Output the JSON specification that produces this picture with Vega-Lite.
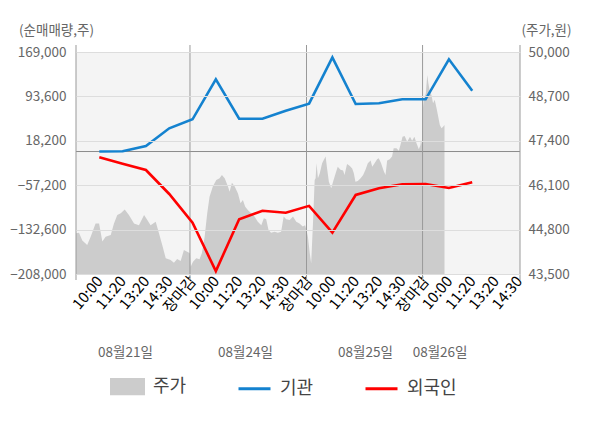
{
  "$schema": "https://vega.github.io/schema/vega-lite/v6.json",
  "width": 444,
  "height": 229,
  "autosize": {"type": "none"},
  "padding": {"left": 76, "top": 45, "right": 80, "bottom": 154},
  "background": "white",
  "config": {
    "font": "Noto Sans CJK KR",
    "view": {"stroke": null}
  },
  "datasets": {
    "price": [
      {"t": 0, "price": 44690}, {"t": 0.13, "price": 44710}, {"t": 0.27, "price": 44480}, {"t": 0.48, "price": 44350},
      {"t": 0.63, "price": 44590}, {"t": 0.84, "price": 44980}, {"t": 0.99, "price": 44980}, {"t": 1.13, "price": 44450},
      {"t": 1.27, "price": 44590}, {"t": 1.49, "price": 44640}, {"t": 1.63, "price": 44980}, {"t": 1.77, "price": 45230},
      {"t": 1.92, "price": 45280}, {"t": 2.09, "price": 45390}, {"t": 2.27, "price": 45230}, {"t": 2.49, "price": 44980},
      {"t": 2.7, "price": 44930}, {"t": 2.92, "price": 45230}, {"t": 3.06, "price": 45080}, {"t": 3.2, "price": 44930},
      {"t": 3.42, "price": 45030}, {"t": 3.56, "price": 44690}, {"t": 3.7, "price": 44350}, {"t": 3.85, "price": 43960},
      {"t": 4.06, "price": 43910}, {"t": 4.2, "price": 43830}, {"t": 4.34, "price": 43940}, {"t": 4.49, "price": 43880},
      {"t": 4.63, "price": 44200}, {"t": 4.85, "price": 44120}, {"t": 4.89, "price": 44100},
      {"t": 4.92, "price": 43710}, {"t": 5.02, "price": 43860}, {"t": 5.16, "price": 43960}, {"t": 5.3, "price": 43930},
      {"t": 5.4, "price": 44110}, {"t": 5.52, "price": 44590}, {"t": 5.63, "price": 45280}, {"t": 5.73, "price": 45760},
      {"t": 5.87, "price": 46060}, {"t": 6.02, "price": 46250}, {"t": 6.16, "price": 46300}, {"t": 6.26, "price": 46400},
      {"t": 6.38, "price": 46300}, {"t": 6.52, "price": 46060}, {"t": 6.59, "price": 45910}, {"t": 6.69, "price": 46170},
      {"t": 6.81, "price": 46060}, {"t": 6.95, "price": 45860}, {"t": 7.06, "price": 45570}, {"t": 7.16, "price": 45670},
      {"t": 7.26, "price": 45470}, {"t": 7.38, "price": 45370}, {"t": 7.52, "price": 45280}, {"t": 7.66, "price": 45180},
      {"t": 7.8, "price": 45030}, {"t": 7.95, "price": 44930}, {"t": 8.06, "price": 45130}, {"t": 8.16, "price": 45100},
      {"t": 8.26, "price": 44790}, {"t": 8.37, "price": 44710}, {"t": 8.52, "price": 44740}, {"t": 8.66, "price": 44710},
      {"t": 8.8, "price": 44740}, {"t": 8.91, "price": 45180}, {"t": 9.02, "price": 45100}, {"t": 9.17, "price": 45080},
      {"t": 9.31, "price": 45180}, {"t": 9.45, "price": 45030}, {"t": 9.59, "price": 44980}, {"t": 9.73, "price": 44890},
      {"t": 9.83, "price": 44930}, {"t": 9.89, "price": 44790},
      {"t": 9.95, "price": 44590}, {"t": 10.03, "price": 44110}, {"t": 10.09, "price": 43810}, {"t": 10.18, "price": 45180},
      {"t": 10.24, "price": 46250}, {"t": 10.28, "price": 46300}, {"t": 10.32, "price": 46740}, {"t": 10.38, "price": 46300},
      {"t": 10.46, "price": 46450}, {"t": 10.56, "price": 46740}, {"t": 10.63, "price": 46840}, {"t": 10.71, "price": 46940},
      {"t": 10.78, "price": 46550}, {"t": 10.85, "price": 46200}, {"t": 10.95, "price": 46010}, {"t": 11.03, "price": 46200},
      {"t": 11.14, "price": 46450}, {"t": 11.23, "price": 46640}, {"t": 11.35, "price": 46550}, {"t": 11.46, "price": 46530},
      {"t": 11.52, "price": 46400}, {"t": 11.63, "price": 46720}, {"t": 11.75, "price": 46660}, {"t": 11.85, "price": 46590},
      {"t": 11.92, "price": 46450}, {"t": 11.99, "price": 46200}, {"t": 12.09, "price": 46220}, {"t": 12.21, "price": 46300},
      {"t": 12.32, "price": 46400}, {"t": 12.42, "price": 46550}, {"t": 12.52, "price": 46740}, {"t": 12.64, "price": 46820},
      {"t": 12.71, "price": 46640}, {"t": 12.81, "price": 46740}, {"t": 12.92, "price": 46860}, {"t": 12.99, "price": 46890},
      {"t": 13.09, "price": 46740}, {"t": 13.21, "price": 46500}, {"t": 13.28, "price": 46400}, {"t": 13.35, "price": 46820},
      {"t": 13.46, "price": 46860}, {"t": 13.56, "price": 46940}, {"t": 13.63, "price": 47180}, {"t": 13.75, "price": 47180},
      {"t": 13.85, "price": 47110}, {"t": 13.92, "price": 47280}, {"t": 14.01, "price": 47520}, {"t": 14.1, "price": 47540},
      {"t": 14.21, "price": 47370}, {"t": 14.33, "price": 47520}, {"t": 14.42, "price": 47400}, {"t": 14.52, "price": 47520},
      {"t": 14.61, "price": 47330}, {"t": 14.71, "price": 47150}, {"t": 14.78, "price": 47280}, {"t": 14.8, "price": 47420},
      {"t": 14.86, "price": 47250},
      {"t": 14.88, "price": 48300}, {"t": 14.92, "price": 48600}, {"t": 15.01, "price": 48790}, {"t": 15.07, "price": 49330},
      {"t": 15.12, "price": 49080}, {"t": 15.18, "price": 48840}, {"t": 15.25, "price": 48740}, {"t": 15.32, "price": 48500},
      {"t": 15.39, "price": 48600}, {"t": 15.47, "price": 48350}, {"t": 15.54, "price": 48110}, {"t": 15.61, "price": 47860},
      {"t": 15.68, "price": 47770}, {"t": 15.75, "price": 47810}, {"t": 15.81, "price": 47860}
    ],
    "flows": [
      {"t": 1, "series": "기관", "v": 0}, {"t": 2, "series": "기관", "v": 500}, {"t": 3, "series": "기관", "v": 9400},
      {"t": 4, "series": "기관", "v": 39400}, {"t": 5, "series": "기관", "v": 54700}, {"t": 6, "series": "기관", "v": 122600},
      {"t": 7, "series": "기관", "v": 55700}, {"t": 8, "series": "기관", "v": 55700}, {"t": 9, "series": "기관", "v": 69300},
      {"t": 10, "series": "기관", "v": 81300}, {"t": 11, "series": "기관", "v": 160000}, {"t": 12, "series": "기관", "v": 80700},
      {"t": 13, "series": "기관", "v": 81900}, {"t": 14, "series": "기관", "v": 88700}, {"t": 15, "series": "기관", "v": 88700},
      {"t": 16, "series": "기관", "v": 156600}, {"t": 17, "series": "기관", "v": 103300},
      {"t": 1, "series": "외국인", "v": -9800}, {"t": 2, "series": "외국인", "v": -20700}, {"t": 3, "series": "외국인", "v": -31400},
      {"t": 4, "series": "외국인", "v": -72100}, {"t": 5, "series": "외국인", "v": -121000}, {"t": 6, "series": "외국인", "v": -203000},
      {"t": 7, "series": "외국인", "v": -115100}, {"t": 8, "series": "외국인", "v": -100500}, {"t": 9, "series": "외국인", "v": -103900},
      {"t": 10, "series": "외국인", "v": -92300}, {"t": 11, "series": "외국인", "v": -137800}, {"t": 12, "series": "외국인", "v": -73800},
      {"t": 13, "series": "외국인", "v": -62500}, {"t": 14, "series": "외국인", "v": -55700}, {"t": 15, "series": "외국인", "v": -55200},
      {"t": 16, "series": "외국인", "v": -61900}, {"t": 17, "series": "외국인", "v": -52300}
    ],
    "days": [
      {"t": 0}, {"t": 4.89}, {"t": 9.89}, {"t": 14.87}, {"t": 19.05}
    ]
  },
  "layer": [
    {
      "data": {"values": [{}]},
      "mark": {"type": "rect", "color": "#f4f4f4"},
      "encoding": {
        "x": {"datum": 0, "type": "quantitative", "scale": {"domain": [0, 19.05], "nice": false, "zero": false}, "axis": null},
        "x2": {"datum": 19.05},
        "y": {"datum": -208000, "type": "quantitative", "scale": {"domain": [-208000, 169000], "range": [229, 7], "nice": false, "zero": false}, "axis": null},
        "y2": {"datum": 169000}
      }
    },
    {
      "data": {"name": "price"},
      "mark": {"type": "area", "interpolate": "linear"},
      "encoding": {
        "x": {
          "field": "t", "type": "quantitative",
          "scale": {"domain": [0, 19.05], "nice": false, "zero": false},
          "axis": {
            "orient": "bottom",
            "values": [1, 2, 3, 4, 5, 6, 7, 8, 9, 10, 11, 12, 13, 14, 15, 16, 17, 18, 19],
            "labelExpr": "['장마감', '10:00', '11:20', '13:20', '14:30'][datum.value % 5]",
            "labelAngle": -50,
            "labelFontSize": 15,
            "labelPadding": 4,
            "labelOverlap": false,
            "labelFlush": false,
            "labelBound": false,
            "ticks": false,
            "domain": false,
            "grid": false,
            "title": null,
            "encode": {"labels": {"update": {"fill": {"signal": "datum.value % 5 == 0 ? '#ff0000' : (datum.value == 16 ? '#222222' : '#666666')"}}}}
          }
        },
        "y": {
          "field": "price", "type": "quantitative",
          "scale": {"domain": [43500, 50000], "range": [229, 7], "nice": false, "zero": false},
          "axis": {
            "orient": "right",
            "values": [43500, 44800, 46100, 47400, 48700, 50000],
            "format": ",.0f",
            "labelFontSize": 13.5,
            "labelColor": "#666666",
            "labelPadding": 8,
            "ticks": false,
            "domain": false,
            "grid": false,
            "title": "(주가,원)",
            "titleAngle": 0,
            "titleX": 26,
            "titleY": -15,
            "titleAlign": "center",
            "titleBaseline": "middle",
            "titleFontSize": 13.5,
            "titleFontWeight": "normal",
            "titleColor": "#666666"
          }
        },
        "y2": {"datum": 43500},
        "color": {"datum": "주가", "type": "nominal"}
      }
    },
    {
      "data": {"values": [{}]},
      "mark": {"type": "rule", "color": "#8c8c8c", "strokeWidth": 1},
      "encoding": {
        "y": {"datum": 0, "type": "quantitative", "scale": {"domain": [-208000, 169000], "range": [229, 7], "nice": false, "zero": false}, "axis": null}
      }
    },
    {
      "data": {"name": "days"},
      "mark": {"type": "rule", "color": "#999999", "strokeWidth": 1},
      "encoding": {
        "x": {
          "field": "t", "type": "quantitative",
          "scale": {"domain": [0, 19.05], "nice": false, "zero": false},
          "axis": {
            "orient": "bottom",
            "values": [2.1, 7.25, 12.4, 15.6],
            "labelExpr": "datum.value < 5 ? '08월21일' : datum.value < 10 ? '08월24일' : datum.value < 15 ? '08월25일' : '08월26일'",
            "labelAngle": 0,
            "labelPadding": 71,
            "labelFontSize": 13.5,
            "labelColor": "#666666",
            "labelOverlap": false,
            "labelFlush": false,
            "labelBound": false,
            "ticks": false,
            "domain": false,
            "grid": false,
            "title": null
          }
        },
        "y": {"datum": 180887, "type": "quantitative", "scale": {"domain": [-208000, 169000], "range": [229, 7], "nice": false, "zero": false}, "axis": null},
        "y2": {"datum": -218200}
      }
    },
    {
      "data": {"name": "flows"},
      "mark": {"type": "line", "strokeWidth": 2.6},
      "encoding": {
        "x": {"field": "t", "type": "quantitative", "scale": {"domain": [0, 19.05], "nice": false, "zero": false}, "axis": null},
        "y": {
          "field": "v", "type": "quantitative",
          "scale": {"domain": [-208000, 169000], "range": [229, 7], "nice": false, "zero": false},
          "axis": {
            "orient": "left",
            "values": [-208000, -132600, -57200, 18200, 93600, 169000],
            "format": ",.0f",
            "labelFontSize": 13.5,
            "labelColor": "#666666",
            "labelPadding": 10,
            "ticks": false,
            "domain": false,
            "grid": true,
            "gridColor": "#dddddd",
            "zindex": 1,
            "title": "(순매매량,주)",
            "titleAngle": 0,
            "titleX": -20,
            "titleY": -15,
            "titleAlign": "center",
            "titleBaseline": "middle",
            "titleFontSize": 13.5,
            "titleFontWeight": "normal",
            "titleColor": "#666666"
          }
        },
        "color": {
          "field": "series", "type": "nominal",
          "scale": {"domain": ["주가", "기관", "외국인"], "range": ["#cccccc", "#1482cf", "#ff0000"]},
          "legend": {
            "orient": "none",
            "legendX": 34,
            "legendY": 324,
            "direction": "horizontal",
            "title": null,
            "labelFontSize": 18,
            "labelColor": "#444444",
            "labelOffset": 8,
            "symbolSize": 1024,
            "symbolStrokeWidth": 3,
            "columnPadding": 45,
            "encode": {
              "symbols": {
                "update": {
                  "shape": {"signal": "datum.value === '주가' ? 'M-1,-0.45H1V0.45H-1Z' : 'stroke'"},
                  "fill": {"signal": "datum.value === '주가' ? '#cccccc' : 'transparent'"},
                  "stroke": {"signal": "datum.value === '주가' ? 'transparent' : (datum.value === '기관' ? '#1482cf' : '#ff0000')"},
                  "strokeWidth": {"value": 3},
                  "opacity": {"value": 1}
                }
              }
            }
          }
        }
      }
    }
  ],
  "resolve": {"scale": {"y": "independent"}, "axis": {"x": "independent"}}
}
